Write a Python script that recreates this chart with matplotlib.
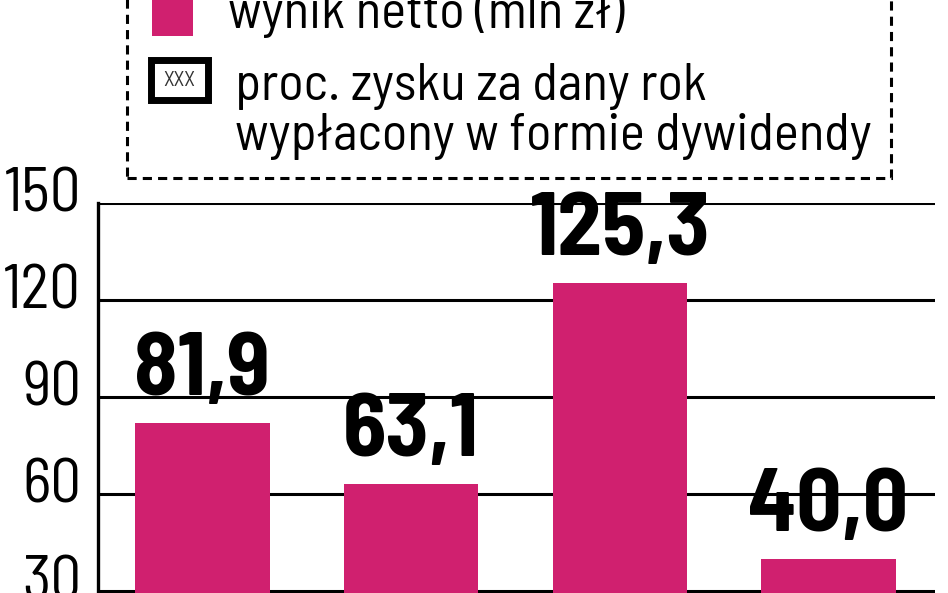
import matplotlib
matplotlib.use("Agg")
import matplotlib.pyplot as plt
from matplotlib.patches import Rectangle
from matplotlib.transforms import ScaledTranslation

# Dane
wartosci = [81.9, 63.1, 125.3, 40.0]
etykiety = ["81,9", "63,1", "125,3", "40,0"]
ticki = [30, 60, 90, 120, 150]
legenda_1 = "wynik netto (mln zł)"
legenda_2 = ["proc. zysku za dany rok", "wypłacony w formie dywidendy"]

kolor = "#d0206f"
czcionka = ["Barlow Semi Condensed", "Barlow Condensed", "DejaVu Sans"]

W, H = 948, 593
fig = plt.figure(figsize=(W / 100, H / 100), dpi=100)


def px(x, y):
    # piksele (od lewego górnego rogu) -> ułamek figury
    return x / W, 1 - y / H


# Oś wykresu - dół wychodzi poza obrazek (kadr)
ax_l, ax_r, ax_t, ax_b = 98, 935, 203, 688
ax = fig.add_axes([ax_l / W, 1 - ax_b / H, (ax_r - ax_l) / W, (ax_b - ax_t) / H])
ax.set_xlim(-0.5, 3.51)
ax.set_ylim(0, 150)

x = range(len(wartosci))
ax.bar(x, wartosci, width=0.645, color=kolor, zorder=3)

for xi, v, t in zip(x, wartosci, etykiety):
    ax.annotate(t, (xi, v), xytext=(0, 20), textcoords="offset points",
                ha="center", va="baseline", fontsize=64, fontweight="bold",
                family=czcionka, zorder=4)

ax.tick_params(axis="y", length=0, pad=12)
ax.set_yticks(ticks=ticki)
ax.set_yticklabels([str(t) for t in ticki], fontsize=44, family=czcionka,
                   va="baseline")
# etykiety osi lekko pod linią siatki, jak w oryginale
przesun = ScaledTranslation(0, -8 / 100, fig.dpi_scale_trans)
for lab in ax.get_yticklabels():
    lab.set_transform(lab.get_transform() + przesun)
ax.set_xticks([])
ax.yaxis.grid(True, color="black", linewidth=2.2, zorder=0)
ax.set_axisbelow(True)
for s in ["top", "right", "bottom"]:
    ax.spines[s].set_visible(False)
ax.spines["left"].set_linewidth(2.4)
ax.spines["left"].set_zorder(5)

# Legenda (przerywana ramka, górna część ucięta)
x0, y0 = px(127, 178)
x1, y1 = px(891, -30)
fig.patches.append(Rectangle((x0, y0), x1 - x0, y1 - y0, transform=fig.transFigure,
                             fill=False, edgecolor="black", linewidth=2.2,
                             linestyle=(0, (3, 2))))

a, b = px(152, -20)
c, d = px(193, 36)
fig.patches.append(Rectangle((a, d), c - a, b - d, transform=fig.transFigure,
                             facecolor=kolor, edgecolor="none"))

a, b = px(151, 60)
c, d = px(208, 100)
fig.patches.append(Rectangle((a, d), c - a, b - d, transform=fig.transFigure,
                             facecolor="white", edgecolor="black", linewidth=5))
fig.text(*px(179.5, 81), "XXX", fontsize=15, ha="center", va="center",
         color="#333333", family=czcionka)

fig.text(*px(228, 28), legenda_1, fontsize=38, family=czcionka, va="baseline")
fig.text(*px(235, 100), legenda_2[0], fontsize=38, family=czcionka, va="baseline")
fig.text(*px(235, 150), legenda_2[1], fontsize=38, family=czcionka, va="baseline")

fig.savefig("out.png", dpi=100)
